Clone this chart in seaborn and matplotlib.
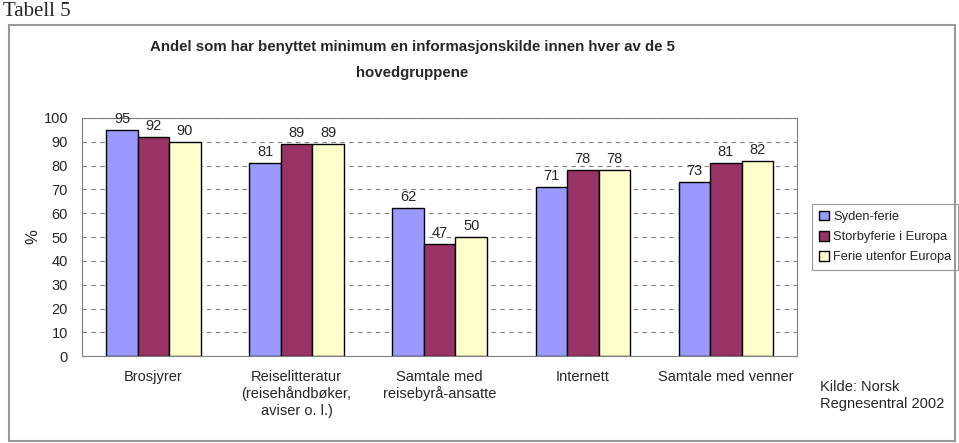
import matplotlib
matplotlib.use("Agg")
import matplotlib.pyplot as plt
import pandas as pd
import seaborn as sns
from matplotlib.patches import Rectangle

categories = ["Brosjyrer", "Reiselitteratur\n(reisehåndbøker,\naviser o. l.)",
              "Samtale med\nreisebyrå-ansatte", "Internett", "Samtale med venner"]
series = ["Syden-ferie", "Storbyferie i Europa", "Ferie utenfor Europa"]
syden = [95, 81, 62, 71, 73]
storby = [92, 89, 47, 78, 81]
utenfor = [90, 89, 50, 78, 82]
colors = ["#9999FF", "#993366", "#FFFFCC"]
yticks = list(range(0, 101, 10))

df = pd.DataFrame({
    "kategori": categories * 3,
    "serie": [s for s in series for _ in categories],
    "verdi": syden + storby + utenfor,
})

sns.set_style("white")
plt.rcParams["font.family"] = ["Liberation Sans", "DejaVu Sans"]

fig = plt.figure(figsize=(9.59, 4.43), dpi=100)
ax = fig.add_axes([0.0855, 0.196, 0.746, 0.538])

sns.barplot(data=df, x="kategori", y="verdi", hue="serie", palette=colors,
            order=categories, hue_order=series, width=0.66,
            edgecolor="black", linewidth=1.0, saturation=1, ax=ax)

for cont in ax.containers:
    ax.bar_label(cont, padding=3, fontsize=10.5)

ax.set_ylim(0, 100)
ax.set_yticks(yticks)
ax.tick_params(axis="y", labelsize=10.5, length=4, color="#808080", direction="out", pad=6)
ax.tick_params(axis="x", labelsize=10.5, length=0, pad=10)
ax.yaxis.grid(True, linestyle=(0, (4, 4)), color="#808080", linewidth=0.8)
ax.set_axisbelow(True)
for side in ["top", "right", "left", "bottom"]:
    ax.spines[side].set_color("#808080")
ax.set_xlabel("")
ax.set_ylabel("%", fontsize=12, labelpad=2)

leg = ax.legend(loc="center left", bbox_to_anchor=(1.012, 0.5), fontsize=9.3,
                frameon=True, fancybox=False, edgecolor="#808080",
                handlelength=0.8, handleheight=0.8, handletextpad=0.3,
                labelspacing=0.6, borderpad=0.5)
leg.get_frame().set_linewidth(0.8)

fig.text(0.43, 0.893, "Andel som har benyttet minimum en informasjonskilde innen hver av de 5",
         ha="center", va="center", fontsize=10.8, fontweight="bold")
fig.text(0.43, 0.836, "hovedgruppene", ha="center", va="center", fontsize=10.8, fontweight="bold")
fig.text(0.003, 0.975, "Tabell 5", ha="left", va="center", fontsize=15,
         family="Liberation Serif")
fig.text(0.855, 0.108, "Kilde: Norsk\nRegnesentral 2002", ha="left", va="center",
         fontsize=10.5, linespacing=1.3)

fig.patches.append(Rectangle((0.009, 0.005), 0.987, 0.938, transform=fig.transFigure,
                             fill=False, edgecolor="#999999", linewidth=1.5))

fig.savefig("out.png", dpi=100)
